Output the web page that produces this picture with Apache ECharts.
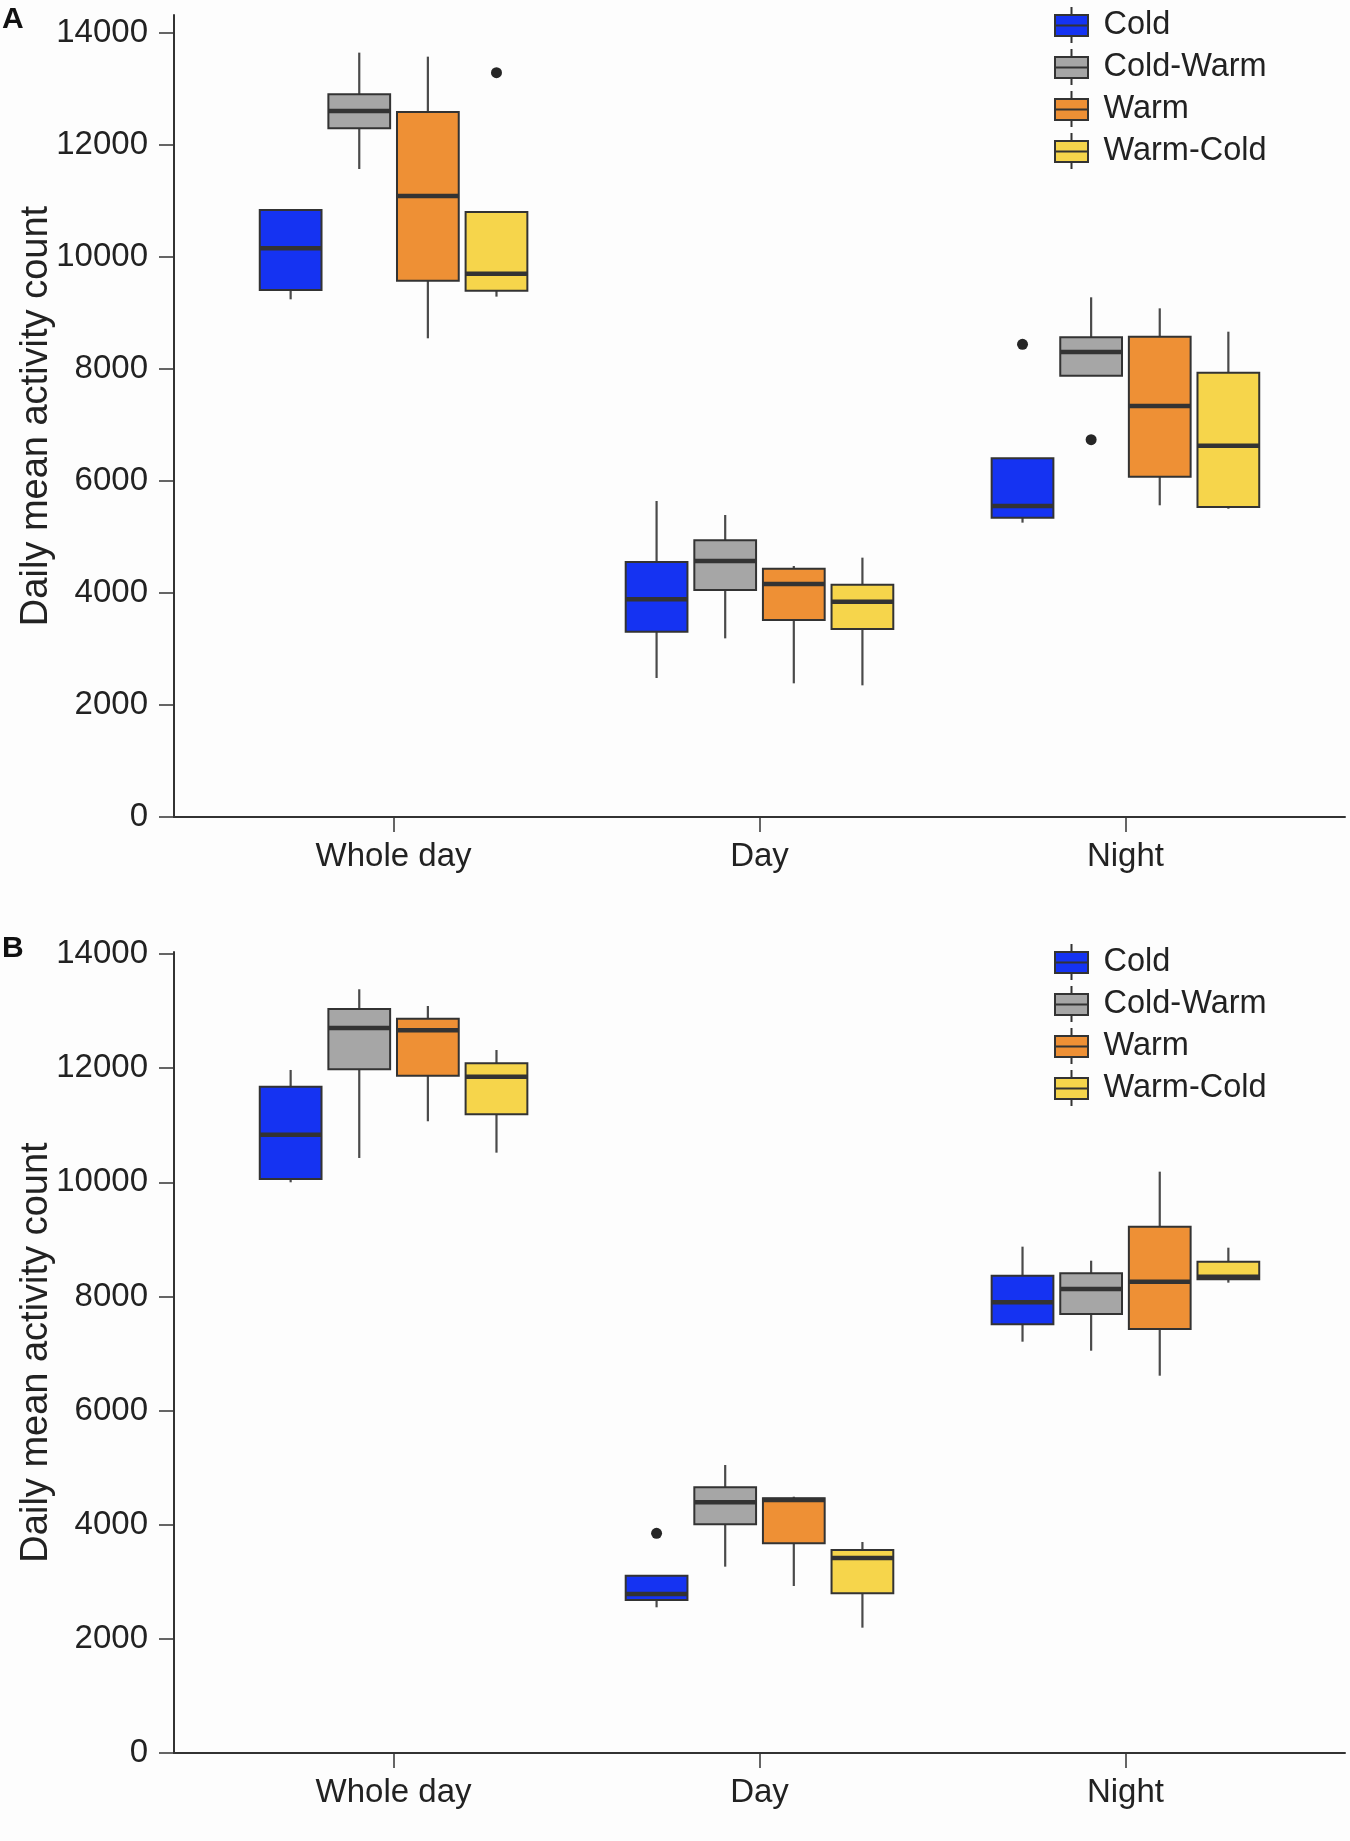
<!DOCTYPE html>
<html>
<head>
<meta charset="utf-8">
<script src="https://cdn.jsdelivr.net/npm/echarts@6/dist/echarts.min.js"></script>
<style>
html,body{margin:0;padding:0;background:#fdfdfd;}
#chart{width:1350px;height:1841px;}
</style>
</head>
<body>
<div id="chart"></div>
<script>
// ---------------- data ----------------
const categories = ['Whole day', 'Day', 'Night'];
const groups = ['Cold', 'Cold-Warm', 'Warm', 'Warm-Cold'];
const groupColors = ['#1533F2', '#A6A6A6', '#EE9035', '#F6D54B'];
const yTicks = [0, 2000, 4000, 6000, 8000, 10000, 12000, 14000];

// each row: [lower whisker, Q1, median, Q3, upper whisker] for Whole day, Day, Night
const panelA_Cold     = [[9244, 9411, 10155, 10839, 10839], [2482, 3310, 3887, 4554, 5643], [5256, 5345, 5554, 6405, 6405]];
const panelA_ColdWarm = [[11571, 12298, 12607, 12905, 13649], [3190, 4054, 4571, 4940, 5393], [7881, 7881, 8304, 8566, 9280]];
const panelA_Warm     = [[8548, 9577, 11089, 12589, 13577], [2387, 3518, 4161, 4435, 4482], [5566, 6077, 7339, 8577, 9083]];
const panelA_WarmCold = [[9292, 9399, 9702, 10804, 10804], [2351, 3357, 3845, 4149, 4631], [5505, 5536, 6630, 7934, 8666]];
const panelA_outliers = [['Warm-Cold', 'Whole day', 13292], ['Cold', 'Night', 8440], ['Cold-Warm', 'Night', 6738]];

const panelB_Cold     = [[10000, 10058, 10835, 11676, 11968], [2553, 2681, 2786, 3107, 3107], [7207, 7512, 7897, 8364, 8872]];
const panelB_ColdWarm = [[10426, 11980, 12704, 13037, 13382], [3265, 4007, 4393, 4656, 5046], [7049, 7692, 8130, 8405, 8626]];
const panelB_Warm     = [[11069, 11868, 12663, 12867, 13089], [2926, 3674, 4433, 4463, 4491], [6611, 7429, 8258, 9222, 10186]];
const panelB_WarmCold = [[10519, 11191, 11851, 12085, 12318], [2196, 2798, 3417, 3557, 3697], [8241, 8300, 8346, 8609, 8854]];
const panelB_outliers = [['Cold', 'Day', 3850]];

const panelA = [panelA_Cold, panelA_ColdWarm, panelA_Warm, panelA_WarmCold];
const panelB = [panelB_Cold, panelB_ColdWarm, panelB_Warm, panelB_WarmCold];

// ---------------- layout helpers ----------------
const DODGE = 0.75;                       // total dodge width (ggplot default)
const SLOT = DODGE / groups.length;       // per-box slot
const BOXW = SLOT * 0.9;                  // box width in axis units
function dodgeOffset(gi) { return (gi - (groups.length - 1) / 2) * SLOT; }

const FONT = '"Liberation Sans", Arial, Helvetica, sans-serif';
const INK = '#333333';

function makeRender(gi) {
  return function (params, api) {
    const xc = api.value(0) + dodgeOffset(gi);
    const lo = api.coord([xc, api.value(1)]);
    const q1 = api.coord([xc, api.value(2)]);
    const md = api.coord([xc, api.value(3)]);
    const q3 = api.coord([xc, api.value(4)]);
    const hi = api.coord([xc, api.value(5)]);
    const w = api.size([BOXW, 0])[0];
    const x0 = q1[0] - w / 2;
    const wStyle = { stroke: '#4a4a4a', lineWidth: 2.2 };
    return {
      type: 'group',
      children: [
        { type: 'line', shape: { x1: hi[0], y1: hi[1], x2: q3[0], y2: q3[1] }, style: wStyle },
        { type: 'line', shape: { x1: q1[0], y1: q1[1], x2: lo[0], y2: lo[1] }, style: wStyle },
        { type: 'rect', shape: { x: x0, y: q3[1], width: w, height: q1[1] - q3[1] },
          style: { fill: groupColors[gi], stroke: INK, lineWidth: 2 } },
        { type: 'line', shape: { x1: x0, y1: md[1], x2: x0 + w, y2: md[1] },
          style: { stroke: INK, lineWidth: 4.5 } }
      ]
    };
  };
}

function boxSeries(panel, gridIdx) {
  return panel.map(function (rows, gi) {
    return {
      type: 'custom',
      name: groups[gi],
      xAxisIndex: gridIdx,
      yAxisIndex: gridIdx,
      renderItem: makeRender(gi),
      itemStyle: { color: groupColors[gi], borderColor: INK, borderWidth: 2 },
      encode: { x: 0, y: [1, 2, 3, 4, 5] },
      data: rows.map(function (r, ci) { return [ci + 1].concat(r); }),
      z: 2
    };
  });
}

function outlierSeries(list, gridIdx) {
  return {
    type: 'scatter',
    name: 'outliers',
    xAxisIndex: gridIdx,
    yAxisIndex: gridIdx,
    symbolSize: 11,
    itemStyle: { color: '#262626', opacity: 1 },
    data: list.map(function (o) {
      const gi = groups.indexOf(o[0]);
      const ci = categories.indexOf(o[1]);
      return [ci + 1 + dodgeOffset(gi), o[2]];
    }),
    z: 3
  };
}

const boxIcon = 'path://M0.5,8L33.5,8L33.5,29L0.5,29ZM17,0L17,8M17,29L17,36M0.5,18.5L33.5,18.5';

const grids = [
  { left: 174, right: 5, top: 15, height: 802 },
  { left: 174, right: 5, top: 952, height: 801 }
];
const yMax = [14321, 14035];

function xAxisFor(i) {
  return {
    type: 'value', gridIndex: i, min: 0.4, max: 3.6,
    splitLine: { show: false },
    axisLine: { show: true, onZero: false, lineStyle: { color: INK, width: 2 } },
    axisTick: { show: true, customValues: [1, 2, 3], length: 15, lineStyle: { color: INK, width: 1.5 } },
    axisLabel: {
      customValues: [1, 2, 3], margin: 23, fontSize: 33, color: '#222', fontFamily: FONT,
      formatter: function (v) { return categories[Math.round(v) - 1]; }
    }
  };
}
function yAxisFor(i) {
  return {
    type: 'value', gridIndex: i, min: 0, max: yMax[i],
    name: 'Daily mean activity count', nameLocation: 'middle', nameGap: 118,
    nameMoveOverlap: false,
    nameTextStyle: { fontSize: 38, color: '#222', fontFamily: FONT },
    splitLine: { show: false },
    axisLine: { show: true, lineStyle: { color: INK, width: 2 } },
    axisTick: { show: true, customValues: yTicks, length: 15, lineStyle: { color: INK, width: 1.5 } },
    axisLabel: {
      customValues: yTicks, margin: 26, fontSize: 33, color: '#222', fontFamily: FONT,
      formatter: function (v) { return String(Math.round(v)); }
    }
  };
}

function legendFor(top) {
  return {
    data: groups, orient: 'vertical', left: 1049, top: top,
    itemWidth: 34, itemHeight: 36, itemGap: 4,
    icon: boxIcon,
    itemStyle: { borderColor: INK, borderWidth: 2 },
    textStyle: { fontSize: 32.5, color: '#222', fontFamily: FONT, padding: [0, 0, 0, 10] },
    selectedMode: false
  };
}

const option = {
  backgroundColor: '#fdfdfd',
  animation: false,
  title: [
    { text: 'A', left: 2, top: 5, padding: 0, textStyle: { fontSize: 30, fontWeight: 'bold', color: '#111', fontFamily: FONT } },
    { text: 'B', left: 2, top: 934, padding: 0, textStyle: { fontSize: 30, fontWeight: 'bold', color: '#111', fontFamily: FONT } }
  ],
  legend: [legendFor(1), legendFor(938)],
  grid: grids,
  xAxis: [xAxisFor(0), xAxisFor(1)],
  yAxis: [yAxisFor(0), yAxisFor(1)],
  series: []
    .concat(boxSeries(panelA, 0))
    .concat(boxSeries(panelB, 1))
    .concat([outlierSeries(panelA_outliers, 0), outlierSeries(panelB_outliers, 1)])
};

const chart = echarts.init(document.getElementById('chart'), null, { renderer: 'canvas' });
chart.setOption(option);
</script>
</body>
</html>
